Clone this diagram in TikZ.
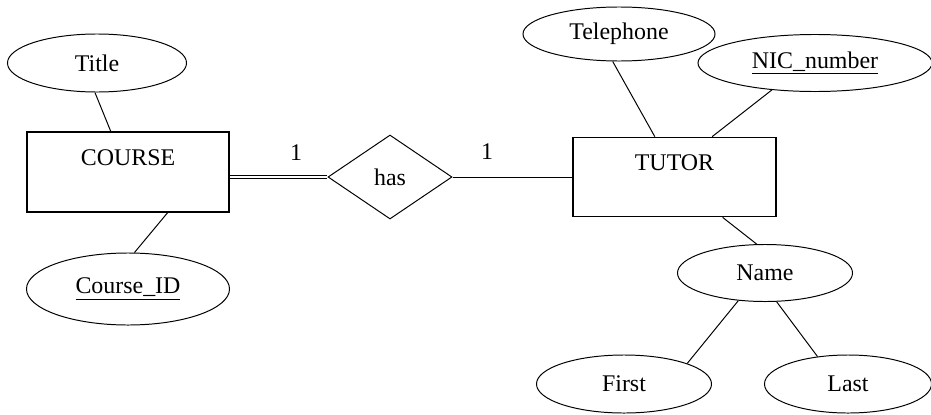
\documentclass[tikz,border=0pt]{standalone}
\usepackage{fontspec}
\setmainfont{Liberation Serif}
\usepackage{tikz}
\usetikzlibrary{shapes.geometric}

\begin{document}
\begin{tikzpicture}[x=0.025cm, y=-0.025cm, font=\fontsize{17}{20}\selectfont,
  attr/.style={ellipse, draw, line width=0.7pt, inner sep=0pt},
  entity/.style={rectangle, draw, line width=1.2pt, align=center, inner sep=0pt, minimum width=5.05cm, minimum height=2cm},
  rel/.style={diamond, draw, line width=0.7pt, inner sep=0pt, minimum width=3.1cm, minimum height=2.1cm},
  conn/.style={line width=0.7pt}]
\useasboundingbox (0,0) rectangle (931,414);

\node[entity] (course) at (128,172) {COURSE\\\mbox{}};
\node[entity, minimum width=5.075cm, minimum height=1.975cm] (tutor) at (674.5,177) {TUTOR\\\mbox{}};
\node[rel] (has) at (390,177) {has};

\node[attr, minimum width=4.475cm, minimum height=1.45cm] (title) at (97,63) {Title};
\node[attr, minimum width=5.075cm, minimum height=1.8cm] (cid) at (128,289) {\underline{Course\_ID}};
\node[attr, minimum width=4.8cm, minimum height=1.35cm] (tel) at (619,34) {Telephone};
\node[attr, minimum width=5.85cm, minimum height=1.425cm] (nic) at (815,63) {\underline{NIC\_number}};
\node[attr, minimum width=4.375cm, minimum height=1.425cm] (name) at (765,273) {Name};
\node[attr, minimum width=4.375cm, minimum height=1.45cm] (first) at (624,384) {First};
\node[attr, minimum width=4.175cm, minimum height=1.45cm] (last) at (848,384) {Last};

\node (c1) at (296,153) {1};
\node (c2) at (487,152) {1};

\draw[conn] (title.266) -- (course.113);
\draw[conn] (course.314) -- (cid.80);
\draw[line width=0.6pt, double, double distance=1.3pt] (course.east |- has.west) -- (has.west);
\draw[conn] (has.east) -- (tutor.west);
\draw[conn] (tel.257) -- (tutor.116);
\draw[conn] (nic.212) -- (tutor.47);
\draw[conn] (tutor.320) -- (name.106);
\draw[conn] (name.226) -- (first.18);
\draw[conn] (name.292) -- (last.138);
\end{tikzpicture}
\end{document}
